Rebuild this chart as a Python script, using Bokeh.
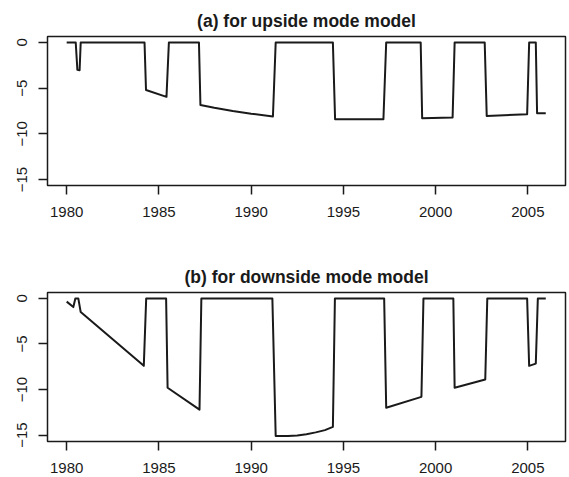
from bokeh.plotting import figure
from bokeh.layouts import column
from bokeh.models import FixedTicker, Range1d
from bokeh.embed import file_html
from bokeh.resources import INLINE

# ---- data ----
up_years = [1980.0, 1980.49, 1980.58, 1980.70, 1980.76, 1984.22, 1984.30, 1985.41, 1985.54,
            1987.17, 1987.25, 1988.0, 1989.0, 1990.0, 1991.18, 1991.33, 1994.43, 1994.55,
            1997.17, 1997.32, 1999.19, 1999.27, 2000.92, 2001.03, 2002.66, 2002.77, 2004.96,
            2005.07, 2005.43, 2005.50, 2005.97]
up_values = [0, 0, -3.0, -3.05, 0, 0, -5.2, -5.95, 0,
             0, -6.85, -7.15, -7.5, -7.8, -8.1, 0, 0, -8.4,
             -8.4, 0, 0, -8.3, -8.2, 0, 0, -8.05, -7.85,
             0, 0, -7.75, -7.75]

down_years = [1980.0, 1980.36, 1980.47, 1980.63, 1980.76, 1984.18, 1984.31, 1985.39, 1985.47,
              1987.2, 1987.3, 1991.15, 1991.33, 1992.0, 1992.5, 1993.0, 1993.5, 1994.0, 1994.43,
              1994.54, 1997.21, 1997.32, 1999.23, 1999.34, 2000.96, 2001.03, 2002.69, 2002.8,
              2004.96, 2005.07, 2005.43, 2005.54, 2005.97]
down_values = [-0.35, -0.95, 0, 0, -1.5, -7.4, 0, 0, -9.8,
               -12.2, 0, 0, -15.1, -15.1, -15.05, -14.9, -14.7, -14.45, -14.1,
               0, 0, -12.0, -10.8, 0, 0, -9.8, -8.9, 0,
               0, -7.4, -7.15, 0, 0]

x_ticks = [1980, 1985, 1990, 1995, 2000, 2005]
y_ticks = [-15, -10, -5, 0]
y_labels = {0: "0", -5: "\u22125", -10: "\u221210", -15: "\u221215"}

titles = ["(a) for upside mode model", "(b) for downside mode model"]

FONT = "Liberation Sans"
INK = "#1a1a1a"


def make_panel(title, xs, ys, y_lo, y_hi, height, border_top, border_bottom):
    p = figure(width=568, height=height, output_backend="svg", toolbar_location=None,
               x_range=Range1d(1978.96, 2007.04), y_range=Range1d(y_lo, y_hi),
               min_border_left=47, min_border_right=3,
               min_border_top=border_top, min_border_bottom=border_bottom,
               title=title)
    p.title.align = "center"
    p.title.text_font = FONT
    p.title.text_font_size = "17.5px"
    p.title.text_font_style = "bold"
    p.title.text_color = INK
    p.title.standoff = 11

    p.line(xs, ys, line_width=2, line_color=INK, line_join="round")

    p.xgrid.visible = False
    p.ygrid.visible = False
    p.outline_line_color = INK
    p.outline_line_width = 1.5
    p.outline_line_alpha = 1.0
    p.background_fill_color = "white"
    p.border_fill_color = "white"

    for ax in (p.xaxis[0], p.yaxis[0]):
        ax.axis_line_color = None
        ax.major_tick_line_color = INK
        ax.major_tick_line_width = 1.5
        ax.major_tick_in = 0
        ax.major_tick_out = 9
        ax.minor_tick_line_color = None
        ax.major_label_text_font = FONT
        ax.major_label_text_font_size = "15px"
        ax.major_label_text_color = INK

    p.xaxis[0].ticker = FixedTicker(ticks=x_ticks)
    p.xaxis[0].major_label_standoff = 12
    p.yaxis[0].ticker = FixedTicker(ticks=y_ticks)
    p.yaxis[0].major_label_overrides = y_labels
    p.yaxis[0].major_label_orientation = "parallel"
    p.yaxis[0].major_label_standoff = 11
    return p


p1 = make_panel(titles[0], up_years, up_values, -15.65, 0.65, 221, 36, 36)
p2 = make_panel(titles[1], down_years, down_values, -15.7, 0.65, 255, 71, 35)

layout = column(p1, p2, spacing=0)
open("out.html", "w").write(file_html(layout, INLINE))
